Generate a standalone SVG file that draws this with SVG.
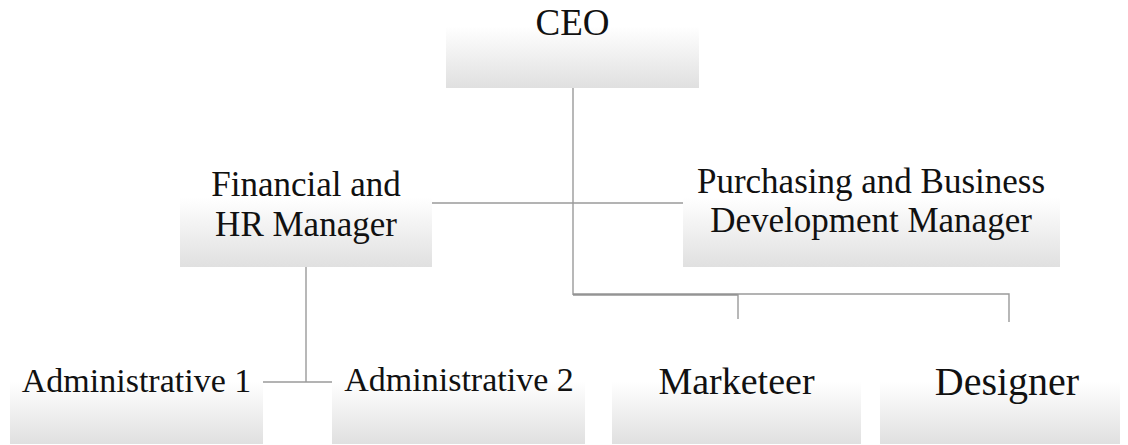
<svg xmlns="http://www.w3.org/2000/svg" width="1128" height="445" viewBox="0 0 1128 445">
  <defs>
    <linearGradient id="boxFill" x1="0" y1="0" x2="0" y2="1">
      <stop offset="0" stop-color="#ffffff"/>
      <stop offset="0.3" stop-color="#ffffff"/>
      <stop offset="1" stop-color="#e0e0e0"/>
    </linearGradient>
    <style>
      .box { fill: url(#boxFill); }
      .label { font-family: "Liberation Serif", "Times New Roman", serif; fill: #111; text-anchor: middle; }
      .link { fill: none; stroke: #9a9a9a; stroke-width: 1.4; }
      .link-bold { fill: none; stroke: #949494; stroke-width: 2.6; }
    </style>
  </defs>

  <rect width="1128" height="445" fill="#ffffff"/>

  <!-- reporting lines -->
  <g id="connectors">
    <path class="link" d="M573 88 V295"/>
    <path class="link" d="M432 203 H683"/>
    <path class="link-bold" d="M573 294.5 H738"/>
    <path class="link" d="M738 294 H1009 V322"/>
    <path class="link" d="M738 294 V319"/>
    <path class="link" d="M306 267 V382"/>
    <path class="link" d="M263 382 H332"/>
  </g>

  <g id="ceo">
    <rect class="box" x="446" y="0" width="253" height="88"/>
    <text class="label" x="572.5" y="35" font-size="37">CEO</text>
  </g>

  <g id="financial-hr-manager">
    <rect class="box" x="180" y="168" width="252" height="99"/>
    <text class="label" x="306" y="196" font-size="35">Financial and</text>
    <text class="label" x="306" y="236" font-size="35">HR Manager</text>
  </g>

  <g id="purchasing-bd-manager">
    <rect class="box" x="683" y="168" width="377" height="99"/>
    <text class="label" x="871" y="193" font-size="35">Purchasing and Business</text>
    <text class="label" x="871" y="232" font-size="35">Development Manager</text>
  </g>

  <g id="administrative-1">
    <rect class="box" x="10" y="355" width="253" height="89"/>
    <text class="label" x="136.5" y="392" font-size="34">Administrative 1</text>
  </g>

  <g id="administrative-2">
    <rect class="box" x="332" y="355" width="253" height="89"/>
    <text class="label" x="459" y="391" font-size="34">Administrative 2</text>
  </g>

  <g id="marketeer">
    <rect class="box" x="612" y="355" width="249" height="89"/>
    <text class="label" x="736.5" y="394" font-size="38">Marketeer</text>
  </g>

  <g id="designer">
    <rect class="box" x="880" y="355" width="240" height="89"/>
    <text class="label" x="1007" y="395" font-size="40">Designer</text>
  </g>
</svg>
